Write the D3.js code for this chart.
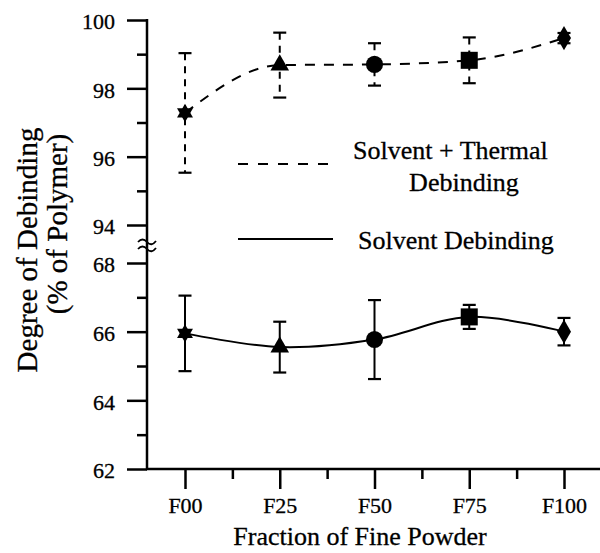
<!DOCTYPE html>
<html><head><meta charset="utf-8">
<script src="https://cdn.jsdelivr.net/npm/d3@7"></script>
<style>
html,body{margin:0;padding:0;background:#fff;}
svg{display:block;}
</style></head>
<body>
<svg id="chart" width="600" height="553"></svg>
<script>
const categories = ["F00", "F25", "F50", "F75", "F100"];
const thermalMean = [97.28, 98.68, 98.7, 98.82, 99.47];
const thermalErr  = [1.75, 0.95, 0.62, 0.67, 0.15];
const solventMean = [65.95, 65.55, 65.77, 66.43, 66.0];
const solventErr  = [1.1, 0.74, 1.15, 0.35, 0.4];
const shapes = ["star", "triangle", "circle", "square", "diamond"];
const upperTicks = [94, 96, 98, 100];
const upperMinor = [95, 97, 99];
const lowerTicks = [62, 64, 66, 68];
const lowerMinor = [63, 65, 67];
const legendLabels = [["Solvent + Thermal", "Debinding"], ["Solvent Debinding"]];
const xTitle = "Fraction of Fine Powder";
const yTitle = ["Degree of Debinding", "(% of Polymer)"];

const FONT = "'Liberation Serif'";
const svg = d3.select("#chart");
const axisX = 147;
const x = d3.scaleLinear().domain([0, 4]).range([185, 564]);
const yUp = d3.scaleLinear().domain([94, 100]).range([225, 20]);
const yLow = d3.scaleLinear().domain([62, 68]).range([469, 263]);

function styleAxis(g) {
  g.attr("font-family", null).attr("font-size", null);
  g.select(".domain").remove();
  g.selectAll(".tick line").attr("stroke", "#000").attr("stroke-width", 2.5);
  g.selectAll(".tick text").style("font-family", FONT).style("font-size", "22px")
    .attr("fill", "#000").attr("stroke", "#000").attr("stroke-width", 0.3);
}
function yAxis(scale, vals, size, labels) {
  const a = d3.axisLeft(scale).tickValues(vals).tickSize(size).tickPadding(12)
    .tickFormat(labels ? d3.format("d") : "");
  const g = svg.append("g").attr("transform", `translate(${axisX},0)`).call(a).call(styleAxis);
  g.selectAll(".tick text").attr("dy", "0.4em");
}
yAxis(yUp, upperTicks, 20, true);
yAxis(yUp, upperMinor, 10, false);
yAxis(yLow, lowerTicks, 20, true);
yAxis(yLow, lowerMinor, 10, false);
svg.append("line").attr("x1", axisX).attr("x2", axisX)
  .attr("y1", yUp(100) - 1).attr("y2", yLow(62) + 1)
  .attr("stroke", "#000").attr("stroke-width", 2.5);

// break mark
const breakY = (yUp(94) + yLow(68)) / 2;
[-3.5, 3.5].forEach(o => {
  svg.append("path")
    .attr("d", `M${axisX - 9},${breakY + o + 1.5} q4.5,-5 9,0 t9,-1`)
    .attr("fill", "none").attr("stroke", "#000").attr("stroke-width", 1.8);
});

// X axis
svg.append("g").attr("transform", `translate(0,${yLow(62)})`)
  .call(d3.axisBottom(x).tickValues([0, 1, 2, 3, 4]).tickSize(20).tickPadding(8)
    .tickFormat(i => categories[i]))
  .call(styleAxis);
svg.append("g").attr("transform", `translate(0,${yLow(62)})`)
  .call(d3.axisBottom(x).tickValues([0.5, 1.5, 2.5, 3.5]).tickSize(10).tickFormat(""))
  .call(styleAxis);
svg.append("line").attr("x1", axisX - 1).attr("x2", 600)
  .attr("y1", yLow(62)).attr("y2", yLow(62))
  .attr("stroke", "#000").attr("stroke-width", 2.5);

// Titles
function txt(xx, yy, s, size, anchor) {
  return svg.append("text").attr("x", xx).attr("y", yy).attr("text-anchor", anchor || "start")
    .style("font-family", FONT).style("font-size", size + "px")
    .attr("fill", "#000").attr("stroke", "#000").attr("stroke-width", 0.3).text(s);
}
txt(360, 545, xTitle, 26, "middle");
txt(0, 0, yTitle[0], 29, "middle").attr("transform", "translate(37,250) rotate(-90)");
txt(0, 0, yTitle[1], 29, "middle").attr("transform", "translate(67,224) rotate(-90)");

// Series
const idx = d3.range(categories.length);
function drawSeries(mean, err, yScale, dashed, curve) {
  const line = d3.line().x(i => x(i)).y(i => yScale(mean[i])).curve(curve);
  svg.append("path").attr("d", line(idx)).attr("fill", "none")
    .attr("stroke", "#000").attr("stroke-width", 2)
    .attr("stroke-dasharray", dashed ? "10,9" : null);
  const eb = svg.append("g");
  idx.forEach(i => {
    const cx = x(i), top = yScale(mean[i] + err[i]), bot = yScale(mean[i] - err[i]);
    eb.append("line").attr("x1", cx).attr("x2", cx).attr("y1", top).attr("y2", bot)
      .attr("stroke", "#000").attr("stroke-width", 2)
      .attr("stroke-dasharray", dashed ? "7,6" : null);
    [top, bot].forEach(yy => eb.append("line").attr("x1", cx - 6.5).attr("x2", cx + 6.5)
      .attr("y1", yy).attr("y2", yy).attr("stroke", "#000").attr("stroke-width", 2.2));
  });
  idx.forEach(i => {
    const cx = x(i), cy = yScale(mean[i]);
    const g = svg.append("g").attr("transform", `translate(${cx},${cy})`);
    const s = shapes[i];
    if (s === "star") {
      g.append("path").attr("d", d3.symbol(d3.symbolTriangle, 110)());
      g.append("path").attr("d", d3.symbol(d3.symbolTriangle, 110)()).attr("transform", "rotate(180)");
    } else if (s === "triangle") {
      g.append("path").attr("d", d3.symbol(d3.symbolTriangle, 150)());
    } else if (s === "circle") {
      g.append("path").attr("d", d3.symbol(d3.symbolCircle, 230)());
    } else if (s === "square") {
      g.append("path").attr("d", d3.symbol(d3.symbolSquare, 290)());
    } else {
      g.append("path").attr("d", d3.symbol(d3.symbolDiamond, 170)());
    }
    g.selectAll("path").attr("fill", "#000");
  });
}
drawSeries(thermalMean, thermalErr, yUp, true, d3.curveMonotoneX);
drawSeries(solventMean, solventErr, yLow, false, d3.curveCardinal.tension(0));

// Legend
svg.append("line").attr("x1", 238).attr("x2", 333).attr("y1", 164).attr("y2", 164)
  .attr("stroke", "#000").attr("stroke-width", 2).attr("stroke-dasharray", "10,10");
txt(353, 159, legendLabels[0][0], 26);
txt(464, 191, legendLabels[0][1], 26, "middle");
svg.append("line").attr("x1", 238).attr("x2", 333).attr("y1", 239).attr("y2", 239)
  .attr("stroke", "#000").attr("stroke-width", 2);
txt(358, 249, legendLabels[1][0], 26);
</script>
</body></html>
